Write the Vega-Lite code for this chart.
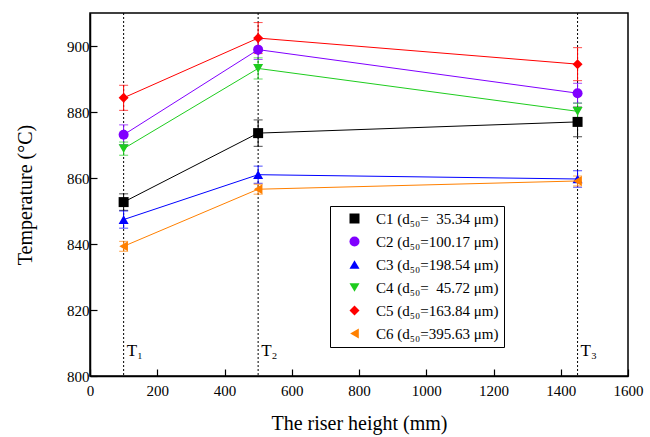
{
  "$schema": "https://vega.github.io/schema/vega-lite/v6.json",
  "autosize": {"type": "none"},
  "width": 538,
  "height": 363,
  "padding": {"left": 90, "top": 13, "right": 22, "bottom": 61},
  "background": "white",
  "config": {
    "view": {"stroke": "black", "strokeWidth": 1.5},
    "font": "Liberation Serif",
    "axis": {
      "grid": false,
      "domainColor": "black",
      "domainWidth": 1.5,
      "tickColor": "black",
      "tickWidth": 1.2,
      "labelFont": "Liberation Serif",
      "labelFontSize": 15,
      "labelColor": "black",
      "titleFont": "Liberation Serif",
      "titleFontSize": 19,
      "titleFontWeight": "normal",
      "titleColor": "black"
    },
    "legend": {
      "labelFont": "Liberation Serif",
      "labelFontSize": 15,
      "labelColor": "black"
    }
  },
  "resolve": {"legend": {"color": "independent", "shape": "independent"}},
  "datasets": {
    "temps": [
      {"series": "C1 (d₅₀=\u00a0\u00a035.34 μm)", "x": 100, "y": 852.7, "lo": 850.2, "hi": 855.2},
      {"series": "C1 (d₅₀=\u00a0\u00a035.34 μm)", "x": 500, "y": 873.6, "lo": 869.6, "hi": 877.6},
      {"series": "C1 (d₅₀=\u00a0\u00a035.34 μm)", "x": 1450, "y": 877.0, "lo": 872.5, "hi": 881.5},
      {"series": "C2 (d₅₀=100.17 μm)", "x": 100, "y": 873.1, "lo": 870.1, "hi": 876.1},
      {"series": "C2 (d₅₀=100.17 μm)", "x": 500, "y": 898.9, "lo": 895.9, "hi": 901.9},
      {"series": "C2 (d₅₀=100.17 μm)", "x": 1450, "y": 885.7, "lo": 882.7, "hi": 888.7},
      {"series": "C3 (d₅₀=198.54 μm)", "x": 100, "y": 847.4, "lo": 844.8, "hi": 850.0},
      {"series": "C3 (d₅₀=198.54 μm)", "x": 500, "y": 861.0, "lo": 858.4, "hi": 863.6},
      {"series": "C3 (d₅₀=198.54 μm)", "x": 1450, "y": 859.7, "lo": 857.2, "hi": 862.2},
      {"series": "C4 (d₅₀=\u00a0\u00a045.72 μm)", "x": 100, "y": 868.9, "lo": 866.9, "hi": 870.9},
      {"series": "C4 (d₅₀=\u00a0\u00a045.72 μm)", "x": 500, "y": 893.2, "lo": 890.0, "hi": 896.4},
      {"series": "C4 (d₅₀=\u00a0\u00a045.72 μm)", "x": 1450, "y": 880.2, "lo": 877.7, "hi": 882.7},
      {"series": "C5 (d₅₀=163.84 μm)", "x": 100, "y": 884.3, "lo": 880.5, "hi": 888.1},
      {"series": "C5 (d₅₀=163.84 μm)", "x": 500, "y": 902.4, "lo": 897.7, "hi": 907.1},
      {"series": "C5 (d₅₀=163.84 μm)", "x": 1450, "y": 894.5, "lo": 889.5, "hi": 899.5},
      {"series": "C6 (d₅₀=395.63 μm)", "x": 100, "y": 839.3, "lo": 837.8, "hi": 840.8},
      {"series": "C6 (d₅₀=395.63 μm)", "x": 500, "y": 856.6, "lo": 855.1, "hi": 858.1},
      {"series": "C6 (d₅₀=395.63 μm)", "x": 1450, "y": 859.1, "lo": 857.6, "hi": 860.6}
    ],
    "positions": [
      {"x": 100, "t": "T₁", "ty": 807.5},
      {"x": 500, "t": "T₂", "ty": 807.5},
      {"x": 1450, "t": "T₃", "ty": 807.5}
    ]
  },
  "layer": [
    {
      "data": {"name": "positions"},
      "mark": {"type": "rule", "strokeDash": [2, 2], "color": "black", "strokeWidth": 1},
      "encoding": {
        "x": {
          "field": "x", "type": "quantitative",
          "scale": {"domain": [0, 1600], "nice": false, "zero": false},
          "axis": {
            "title": "The riser height (mm)",
            "values": [0, 100, 200, 300, 400, 500, 600, 700, 800, 900, 1000, 1100, 1200, 1300, 1400, 1500, 1600],
            "labelExpr": "datum.value % 200 === 0 ? datum.label : ''",
            "format": "d",
            "tickSize": {"condition": {"test": "datum.value % 200 === 0", "value": -7}, "value": -4},
            "labelPadding": 14,
            "titlePadding": 15,
            "labelFlush": false,
            "labelFont": "Liberation Serif",
            "labelFontSize": 15,
            "titleFont": "Liberation Serif",
            "titleFontSize": 20,
            "titleFontWeight": "normal"
          }
        }
      }
    },
    {
      "data": {"name": "positions"},
      "mark": {"type": "text", "align": "left", "baseline": "middle", "dx": 3, "fontSize": 17, "font": "Liberation Serif", "color": "black"},
      "encoding": {
        "x": {"field": "x", "type": "quantitative"},
        "y": {"field": "ty", "type": "quantitative"},
        "text": {"field": "t"}
      }
    },
    {
      "data": {"name": "temps"},
      "mark": {"type": "rule", "strokeWidth": 1},
      "encoding": {
        "x": {"field": "x", "type": "quantitative"},
        "y": {"field": "lo", "type": "quantitative"},
        "y2": {"field": "hi"},
        "color": {"field": "series", "type": "nominal", "legend": null}
      }
    },
    {
      "data": {"name": "temps"},
      "mark": {"type": "tick", "orient": "horizontal", "size": 9, "thickness": 1},
      "encoding": {
        "x": {"field": "x", "type": "quantitative"},
        "y": {"field": "lo", "type": "quantitative"},
        "color": {"field": "series", "type": "nominal", "legend": null}
      }
    },
    {
      "data": {"name": "temps"},
      "mark": {"type": "tick", "orient": "horizontal", "size": 9, "thickness": 1},
      "encoding": {
        "x": {"field": "x", "type": "quantitative"},
        "y": {"field": "hi", "type": "quantitative"},
        "color": {"field": "series", "type": "nominal", "legend": null}
      }
    },
    {
      "data": {"name": "temps"},
      "mark": {"type": "line", "strokeWidth": 1},
      "encoding": {
        "x": {"field": "x", "type": "quantitative"},
        "y": {"field": "y", "type": "quantitative"},
        "color": {"field": "series", "type": "nominal", "legend": null}
      }
    },
    {
      "data": {"name": "temps"},
      "mark": {"type": "point", "filled": true, "size": 100, "opacity": 1},
      "encoding": {
        "x": {"field": "x", "type": "quantitative"},
        "y": {
          "field": "y", "type": "quantitative",
          "scale": {"domain": [800, 910], "nice": false, "zero": false},
          "axis": {
            "title": "Temperature (°C)",
            "values": [800, 810, 820, 830, 840, 850, 860, 870, 880, 890, 900],
            "labelExpr": "datum.value % 20 === 0 ? datum.label : ''",
            "tickSize": {"condition": {"test": "datum.value % 20 === 0", "value": -7}, "value": -4},
            "labelPadding": 8,
            "titlePadding": 31,
            "labelFont": "Liberation Serif",
            "labelFontSize": 15,
            "titleFont": "Liberation Serif",
            "titleFontSize": 20,
            "titleFontWeight": "normal"
          }
        },
        "color": {
          "field": "series", "type": "nominal",
          "scale": {
            "domain": ["C1 (d₅₀=\u00a0\u00a035.34 μm)", "C2 (d₅₀=100.17 μm)", "C3 (d₅₀=198.54 μm)", "C4 (d₅₀=\u00a0\u00a045.72 μm)", "C5 (d₅₀=163.84 μm)", "C6 (d₅₀=395.63 μm)"],
            "range": ["#000000", "#8000FF", "#0000FF", "#1ECC1E", "#FF0000", "#FF8000"]
          },
          "legend": {
            "title": null,
            "orient": "none",
            "legendX": 240,
            "legendY": 193,
            "fillColor": "white",
            "strokeColor": "black",
            "padding": 5,
            "rowPadding": 7,
            "symbolSize": 100,
            "symbolOffset": 12,
            "labelOffset": 14,
            "symbolStrokeWidth": 1,
            "labelFont": "Liberation Serif",
            "labelFontSize": 15,
            "encode": {
              "symbols": {
                "shape": {"value": {"expr": "['M-3.5,0H3.5M-0.85,-0.85H0.85V0.85H-0.85Z', 'M-3.5,0H3.5M-0.95,0A0.95,0.95,0,1,0,0.95,0A0.95,0.95,0,1,0,-0.95,0Z', 'M-3.5,0H3.5M0,-1L1,0.75L-1,0.75Z', 'M-3.5,0H3.5M0,1L1,-0.75L-1,-0.75Z', 'M-3.5,0H3.5M0,-1.1L0.9,0L0,1.1L-0.9,0Z', 'M-3.5,0H3.5M-1,0L0.75,-1L0.75,1Z'][datum.index]"}}
              }
            }
          }
        },
        "shape": {
          "field": "series", "type": "nominal",
          "scale": {
            "domain": ["C1 (d₅₀=\u00a0\u00a035.34 μm)", "C2 (d₅₀=100.17 μm)", "C3 (d₅₀=198.54 μm)", "C4 (d₅₀=\u00a0\u00a045.72 μm)", "C5 (d₅₀=163.84 μm)", "C6 (d₅₀=395.63 μm)"],
            "range": ["square", "circle", "triangle-up", "triangle-down", "diamond", "triangle-left"]
          },
          "legend": null
        }
      }
    }
  ]
}
